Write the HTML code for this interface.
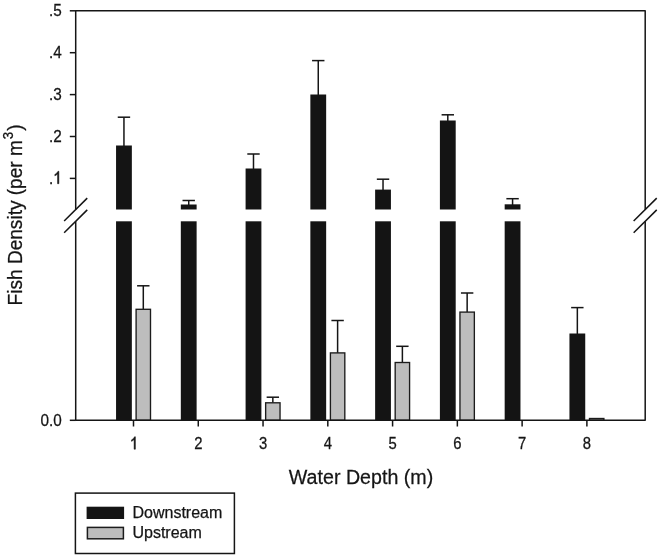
<!DOCTYPE html>
<html><head><meta charset="utf-8"><title>Fish Density</title>
<style>html,body{margin:0;padding:0;background:#fff;}body{width:661px;height:558px;overflow:hidden;}svg{display:block;filter:blur(0.35px);}text{font-family:"Liberation Sans",sans-serif;fill:#151515;stroke:#151515;stroke-width:0.25px;}</style></head><body>
<svg width="661" height="558" viewBox="0 0 661 558">
<rect x="0" y="0" width="661" height="558" fill="#ffffff"/>
<line x1="123.95" y1="117.20" x2="123.95" y2="146.50" stroke="#151515" stroke-width="1.5"/>
<line x1="117.75" y1="117.20" x2="130.15" y2="117.20" stroke="#151515" stroke-width="1.5"/>
<rect x="116.05" y="145.50" width="15.80" height="274.80" fill="#141414"/>
<line x1="188.72" y1="200.50" x2="188.72" y2="205.50" stroke="#151515" stroke-width="1.5"/>
<line x1="182.52" y1="200.50" x2="194.92" y2="200.50" stroke="#151515" stroke-width="1.5"/>
<rect x="180.82" y="204.50" width="15.80" height="215.80" fill="#141414"/>
<line x1="253.49" y1="154.00" x2="253.49" y2="169.50" stroke="#151515" stroke-width="1.5"/>
<line x1="247.29" y1="154.00" x2="259.69" y2="154.00" stroke="#151515" stroke-width="1.5"/>
<rect x="245.59" y="168.50" width="15.80" height="251.80" fill="#141414"/>
<line x1="318.26" y1="60.60" x2="318.26" y2="95.50" stroke="#151515" stroke-width="1.5"/>
<line x1="312.06" y1="60.60" x2="324.46" y2="60.60" stroke="#151515" stroke-width="1.5"/>
<rect x="310.36" y="94.50" width="15.80" height="325.80" fill="#141414"/>
<line x1="383.03" y1="179.20" x2="383.03" y2="190.60" stroke="#151515" stroke-width="1.5"/>
<line x1="376.83" y1="179.20" x2="389.23" y2="179.20" stroke="#151515" stroke-width="1.5"/>
<rect x="375.13" y="189.60" width="15.80" height="230.70" fill="#141414"/>
<line x1="447.80" y1="114.80" x2="447.80" y2="121.50" stroke="#151515" stroke-width="1.5"/>
<line x1="441.60" y1="114.80" x2="454.00" y2="114.80" stroke="#151515" stroke-width="1.5"/>
<rect x="439.90" y="120.50" width="15.80" height="299.80" fill="#141414"/>
<line x1="512.57" y1="198.70" x2="512.57" y2="205.30" stroke="#151515" stroke-width="1.5"/>
<line x1="506.37" y1="198.70" x2="518.77" y2="198.70" stroke="#151515" stroke-width="1.5"/>
<rect x="504.67" y="204.30" width="15.80" height="216.00" fill="#141414"/>
<line x1="577.34" y1="307.60" x2="577.34" y2="334.50" stroke="#151515" stroke-width="1.5"/>
<line x1="571.14" y1="307.60" x2="583.54" y2="307.60" stroke="#151515" stroke-width="1.5"/>
<rect x="569.44" y="333.50" width="15.80" height="86.80" fill="#141414"/>
<line x1="143.30" y1="285.80" x2="143.30" y2="309.30" stroke="#151515" stroke-width="1.5"/>
<line x1="137.10" y1="285.80" x2="149.50" y2="285.80" stroke="#151515" stroke-width="1.5"/>
<rect x="136.10" y="309.30" width="14.40" height="111.00" fill="#bdbdbd" stroke="#1c1c1c" stroke-width="1.35"/>
<line x1="272.84" y1="397.20" x2="272.84" y2="402.80" stroke="#151515" stroke-width="1.5"/>
<line x1="266.64" y1="397.20" x2="279.04" y2="397.20" stroke="#151515" stroke-width="1.5"/>
<rect x="265.64" y="402.80" width="14.40" height="17.50" fill="#bdbdbd" stroke="#1c1c1c" stroke-width="1.35"/>
<line x1="337.61" y1="320.50" x2="337.61" y2="352.90" stroke="#151515" stroke-width="1.5"/>
<line x1="331.41" y1="320.50" x2="343.81" y2="320.50" stroke="#151515" stroke-width="1.5"/>
<rect x="330.41" y="352.90" width="14.40" height="67.40" fill="#bdbdbd" stroke="#1c1c1c" stroke-width="1.35"/>
<line x1="402.38" y1="346.30" x2="402.38" y2="362.50" stroke="#151515" stroke-width="1.5"/>
<line x1="396.18" y1="346.30" x2="408.58" y2="346.30" stroke="#151515" stroke-width="1.5"/>
<rect x="395.18" y="362.50" width="14.40" height="57.80" fill="#bdbdbd" stroke="#1c1c1c" stroke-width="1.35"/>
<line x1="467.15" y1="293.00" x2="467.15" y2="312.10" stroke="#151515" stroke-width="1.5"/>
<line x1="460.95" y1="293.00" x2="473.35" y2="293.00" stroke="#151515" stroke-width="1.5"/>
<rect x="459.95" y="312.10" width="14.40" height="108.20" fill="#bdbdbd" stroke="#1c1c1c" stroke-width="1.35"/>
<rect x="589.49" y="418.50" width="14.40" height="1.80" fill="#bdbdbd" stroke="#1c1c1c" stroke-width="1.35"/>
<rect x="85.7" y="209.5" width="549.5" height="11.800000000000011" fill="#ffffff"/>
<rect x="75.7" y="10.8" width="569.5" height="409.5" fill="none" stroke="#151515" stroke-width="1.5" stroke-linejoin="round"/>
<line x1="69.80" y1="10.80" x2="75.7" y2="10.80" stroke="#151515" stroke-width="1.5"/>
<text transform="translate(61.7,16.10) scale(1,1.13)" font-size="15.3" stroke-width="0.5" text-anchor="end">.5</text>
<line x1="69.80" y1="52.70" x2="75.7" y2="52.70" stroke="#151515" stroke-width="1.5"/>
<text transform="translate(61.7,58.00) scale(1,1.13)" font-size="15.3" stroke-width="0.5" text-anchor="end">.4</text>
<line x1="69.80" y1="94.60" x2="75.7" y2="94.60" stroke="#151515" stroke-width="1.5"/>
<text transform="translate(61.7,99.90) scale(1,1.13)" font-size="15.3" stroke-width="0.5" text-anchor="end">.3</text>
<line x1="69.80" y1="136.50" x2="75.7" y2="136.50" stroke="#151515" stroke-width="1.5"/>
<text transform="translate(61.7,141.80) scale(1,1.13)" font-size="15.3" stroke-width="0.5" text-anchor="end">.2</text>
<line x1="69.80" y1="178.40" x2="75.7" y2="178.40" stroke="#151515" stroke-width="1.5"/>
<text transform="translate(53.19,183.70) scale(1,1.13)" font-size="15.3" stroke-width="0.5" text-anchor="end">.</text>
<path transform="translate(53.19,183.70) scale(0.00747,-0.00844)" d="M763 0H583V1147Q518 1085 412.5 1023T223 930V1104Q373 1174.5 485 1275T644 1470H763Z" fill="#151515" stroke="#151515" stroke-width="62.8"/>
<line x1="69.80" y1="420.3" x2="75.7" y2="420.3" stroke="#151515" stroke-width="1.5"/>
<text transform="translate(61.7,425.60) scale(1,1.13)" font-size="15.3" stroke-width="0.5" text-anchor="end">0.0</text>
<line x1="133.50" y1="420.3" x2="133.50" y2="426.5" stroke="#151515" stroke-width="1.5"/>
<path transform="translate(129.87,449.20) scale(0.00725,-0.00844)" d="M763 0H583V1147Q518 1085 412.5 1023T223 930V1104Q373 1174.5 485 1275T644 1470H763Z" fill="#151515" stroke="#151515" stroke-width="63.7"/>
<line x1="198.27" y1="420.3" x2="198.27" y2="426.5" stroke="#151515" stroke-width="1.5"/>
<text transform="translate(198.27,449.2) scale(0.97,1.13)" font-size="15.3" stroke-width="0.5" text-anchor="middle">2</text>
<line x1="263.04" y1="420.3" x2="263.04" y2="426.5" stroke="#151515" stroke-width="1.5"/>
<text transform="translate(263.04,449.2) scale(0.97,1.13)" font-size="15.3" stroke-width="0.5" text-anchor="middle">3</text>
<line x1="327.81" y1="420.3" x2="327.81" y2="426.5" stroke="#151515" stroke-width="1.5"/>
<text transform="translate(327.81,449.2) scale(0.97,1.13)" font-size="15.3" stroke-width="0.5" text-anchor="middle">4</text>
<line x1="392.58" y1="420.3" x2="392.58" y2="426.5" stroke="#151515" stroke-width="1.5"/>
<text transform="translate(392.58,449.2) scale(0.97,1.13)" font-size="15.3" stroke-width="0.5" text-anchor="middle">5</text>
<line x1="457.35" y1="420.3" x2="457.35" y2="426.5" stroke="#151515" stroke-width="1.5"/>
<text transform="translate(457.35,449.2) scale(0.97,1.13)" font-size="15.3" stroke-width="0.5" text-anchor="middle">6</text>
<line x1="522.12" y1="420.3" x2="522.12" y2="426.5" stroke="#151515" stroke-width="1.5"/>
<text transform="translate(522.12,449.2) scale(0.97,1.13)" font-size="15.3" stroke-width="0.5" text-anchor="middle">7</text>
<line x1="586.89" y1="420.3" x2="586.89" y2="426.5" stroke="#151515" stroke-width="1.5"/>
<text transform="translate(586.89,449.2) scale(0.97,1.13)" font-size="15.3" stroke-width="0.5" text-anchor="middle">8</text>
<rect x="72.7" y="209.6" width="6" height="11.8" fill="#ffffff"/>
<line x1="64.15" y1="221.00" x2="87.25" y2="198.10" stroke="#151515" stroke-width="1.5"/>
<line x1="64.15" y1="232.80" x2="87.25" y2="209.90" stroke="#151515" stroke-width="1.5"/>
<rect x="642.2" y="209.6" width="6" height="11.8" fill="#ffffff"/>
<line x1="633.65" y1="221.00" x2="656.75" y2="198.10" stroke="#151515" stroke-width="1.5"/>
<line x1="633.65" y1="232.80" x2="656.75" y2="209.90" stroke="#151515" stroke-width="1.5"/>
<text transform="translate(361.0,483.7) scale(1,1.035)" font-size="19.65" stroke-width="0.45" text-anchor="middle">Water Depth (m)</text>
<text transform="translate(22.0,305.4) rotate(-90) scale(1,1.09)" font-size="19.08" stroke-width="0.45" text-anchor="start">Fish Density (per m<tspan font-size="13.3" dy="-8.6" dx="0.9">3</tspan><tspan dy="8.6" dx="1.2">)</tspan></text>
<rect x="75.4" y="493.1" width="159" height="60.4" fill="#ffffff" stroke="#151515" stroke-width="1.5"/>
<rect x="86.6" y="506.7" width="37.5" height="12.3" fill="#141414"/>
<rect x="87.4" y="527.4" width="36.0" height="11.4" fill="#bdbdbd" stroke="#1c1c1c" stroke-width="1.5"/>
<text x="132.4" y="518.3" font-size="16.05" stroke-width="0.45">Downstream</text>
<text x="132.4" y="537.8" font-size="16.05" stroke-width="0.45">Upstream</text>
</svg></body></html>
